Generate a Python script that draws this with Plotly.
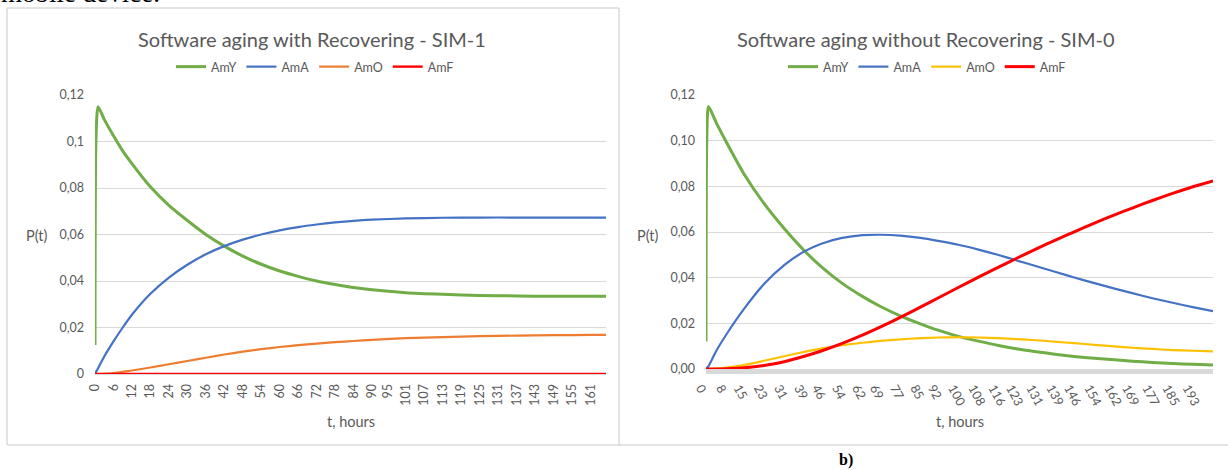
import plotly.graph_objects as go

W, H = 1228, 470

# ---------------- SIM-1 : Software aging with Recovering ----------------
t_sim1 = [0, 0.3, 1, 3, 6, 9, 12, 18, 24, 30, 36, 42, 48, 54, 60, 66, 72, 78,
          84, 90, 101, 113, 125, 137, 149, 161, 166]
amy_sim1 = [0.0125, 0.100, 0.115, 0.1095, 0.1025, 0.0960, 0.0905, 0.0805, 0.0725,
            0.0660, 0.0600, 0.0550, 0.0507, 0.0472, 0.0443, 0.0420, 0.0400, 0.0385,
            0.0372, 0.0362, 0.0350, 0.0343, 0.0338, 0.0336, 0.0334, 0.0334, 0.0334]
ama_sim1 = [0.0, 0.0008, 0.0025, 0.0075, 0.0140, 0.0200, 0.0255, 0.0345, 0.0415,
            0.0470, 0.0515, 0.0550, 0.0578, 0.0600, 0.0618, 0.0632, 0.0643, 0.0652,
            0.0659, 0.0664, 0.0669, 0.0672, 0.0673, 0.0673, 0.0673, 0.0673, 0.0673]
amo_sim1 = [0.0, 0.0, 0.0, 0.0001, 0.0004, 0.0009, 0.0015, 0.0028, 0.0042, 0.0056,
            0.0070, 0.0084, 0.0096, 0.0107, 0.0116, 0.0124, 0.0131, 0.0137, 0.0142,
            0.0147, 0.0154, 0.0159, 0.0163, 0.0165, 0.0167, 0.0168, 0.0168]
amf_sim1 = [0.0] * len(t_sim1)
ticks_sim1 = [0, 6, 12, 18, 24, 30, 36, 42, 48, 54, 60, 66, 72, 78, 84, 90, 95,
              101, 107, 113, 119, 125, 131, 137, 143, 149, 155, 161]

# ---------------- SIM-0 : Software aging without Recovering ----------------
t_sim0 = [0, 0.3, 1, 4, 8, 15, 23, 31, 39, 46, 54, 62, 69, 77, 85, 92, 100, 108,
          116, 123, 131, 139, 146, 154, 162, 169, 177, 185, 193, 201]
amy_sim0 = [0.012, 0.100, 0.115, 0.108, 0.0995, 0.0855, 0.0725, 0.0615, 0.0518,
            0.0445, 0.0375, 0.0318, 0.0275, 0.0233, 0.0198, 0.0170, 0.0143, 0.0122,
            0.0103, 0.0089, 0.0076, 0.0064, 0.0055, 0.0047, 0.0040, 0.0034, 0.0029,
            0.0024, 0.0021, 0.0018]
ama_sim0 = [0.0, 0.0004, 0.0013, 0.0078, 0.0150, 0.0262, 0.0372, 0.0455, 0.0515,
            0.0550, 0.0574, 0.0586, 0.0588, 0.0584, 0.0574, 0.0561, 0.0544, 0.0523,
            0.0499, 0.0476, 0.0450, 0.0424, 0.0401, 0.0376, 0.0352, 0.0332, 0.0310,
            0.0290, 0.0271, 0.0253]
amo_sim0 = [0.0, 0.0, 0.0, 0.0002, 0.0006, 0.0017, 0.0036, 0.0056, 0.0075, 0.0090,
            0.0104, 0.0115, 0.0123, 0.0130, 0.0135, 0.0138, 0.0139, 0.0138, 0.0135,
            0.0131, 0.0126, 0.0119, 0.0113, 0.0106, 0.0099, 0.0093, 0.0088, 0.0083,
            0.0080, 0.0077]
amf_sim0 = [0.0, 0.0, 0.0, 0.0, 0.0001, 0.0005, 0.0015, 0.0032, 0.0056, 0.0080,
            0.0112, 0.0148, 0.0183, 0.0226, 0.0271, 0.0311, 0.0357, 0.0402, 0.0446,
            0.0484, 0.0526, 0.0567, 0.0601, 0.0639, 0.0675, 0.0705, 0.0738, 0.0769,
            0.0798, 0.0824]
ticks_sim0 = [0, 8, 15, 23, 31, 39, 46, 54, 62, 69, 77, 85, 92, 100, 108, 116, 123,
              131, 139, 146, 154, 162, 169, 177, 185, 193]

series_names = ["AmY", "AmA", "AmO", "AmF"]
colors_sim1 = ["#70AD47", "#4472C4", "#ED7D31", "#FF0000"]
colors_sim0 = ["#70AD47", "#4472C4", "#FFC000", "#FF0000"]
widths_sim1 = [3, 2.2, 2.2, 2.4]
widths_sim0 = [3, 2.2, 2.2, 3]

FONT = "Lato"
GREY = "#595959"


def fx(p):
    return p / W


def fy(p):
    return 1 - p / H


fig = go.Figure()

for name, vals, col, lw in zip(series_names, [amy_sim1, ama_sim1, amo_sim1, amf_sim1],
                               colors_sim1, widths_sim1):
    fig.add_trace(go.Scatter(x=t_sim1, y=vals, name=name, mode="lines",
                             line=dict(color=col, width=lw, shape="spline", smoothing=0.6),
                             xaxis="x", yaxis="y", legend="legend", hoverinfo="skip"))

for name, vals, col, lw in zip(series_names, [amy_sim0, ama_sim0, amo_sim0, amf_sim0],
                               colors_sim0, widths_sim0):
    fig.add_trace(go.Scatter(x=t_sim0, y=vals, name=name, mode="lines",
                             line=dict(color=col, width=lw, shape="spline", smoothing=0.6),
                             xaxis="x2", yaxis="y2", legend="legend2", hoverinfo="skip"))

tickfont = dict(family=FONT, size=12.5, color=GREY)

fig.update_layout(
    template="none",
    width=W, height=H,
    margin=dict(l=0, r=0, t=0, b=0, pad=0, autoexpand=False),
    paper_bgcolor="white", plot_bgcolor="white",
    separators=", ",
    font=dict(family=FONT, color=GREY),
    xaxis=dict(domain=[fx(95), fx(606)], range=[0, 166], anchor="y", automargin=False,
               tickmode="array", tickvals=ticks_sim1, ticktext=[str(v) for v in ticks_sim1],
               tickangle=-90, tickfont=tickfont, showgrid=False, zeroline=False,
               showline=True, linecolor="#D9D9D9", linewidth=1, ticks="",
               ticklabelstandoff=4),
    yaxis=dict(domain=[fy(374), fy(95)], range=[0, 0.12], anchor="x", automargin=False,
               tickmode="linear", tick0=0, dtick=0.02, tickfont=tickfont,
               showgrid=True, gridcolor="#D9D9D9", gridwidth=1, zeroline=False,
               showline=False, ticks="", ticklabelstandoff=10),
    xaxis2=dict(domain=[fx(706), fx(1213)], range=[0, 201], anchor="y2", automargin=False,
                tickmode="array", tickvals=ticks_sim0, ticktext=[str(v) for v in ticks_sim0],
                tickangle=62, tickfont=tickfont, showgrid=False, zeroline=False,
                showline=True, linecolor="#D9D9D9", linewidth=5, ticks="",
                ticklabelstandoff=2, ticklabelshift=-5),
    yaxis2=dict(domain=[fy(369), fy(95)], range=[0, 0.12], anchor="x2", automargin=False,
                tickmode="linear", tick0=0, dtick=0.02, tickformat=".2f", tickfont=tickfont,
                showgrid=True, gridcolor="#D9D9D9", gridwidth=1, zeroline=False,
                showline=False, ticks="", ticklabelstandoff=10),
    legend=dict(orientation="h", x=fx(315), y=fy(67), xanchor="center", yanchor="middle",
                font=dict(family=FONT, size=12.5, color=GREY), bgcolor="rgba(0,0,0,0)"),
    legend2=dict(orientation="h", x=fx(927), y=fy(67), xanchor="center", yanchor="middle",
                 font=dict(family=FONT, size=12.5, color=GREY), bgcolor="rgba(0,0,0,0)"),
)

annotations = [
    dict(text="Software aging with Recovering - SIM-1", x=fx(312), y=fy(39.5),
         font=dict(family=FONT, size=20, color=GREY)),
    dict(text="Software aging without Recovering - SIM-0", x=fx(926), y=fy(39.5),
         font=dict(family=FONT, size=20, color=GREY)),
    dict(text="P(t)", x=fx(36.5), y=fy(236), font=dict(family=FONT, size=14.5, color=GREY)),
    dict(text="P(t)", x=fx(648), y=fy(235), font=dict(family=FONT, size=14.5, color=GREY)),
    dict(text="t, hours", x=fx(350.5), y=fy(421), font=dict(family=FONT, size=14.5, color=GREY)),
    dict(text="t, hours", x=fx(959.5), y=fy(421), font=dict(family=FONT, size=14.5, color=GREY)),
    dict(text="<b>b)</b>", x=fx(846), y=fy(460),
         font=dict(family="Liberation Serif", size=16, color="black")),
    dict(text="mobile device.", x=fx(-1), y=fy(10.5), xanchor="left", yanchor="bottom",
         font=dict(family="Liberation Serif", size=27, color="black")),
]
for a in annotations:
    a.setdefault("xanchor", "center")
    a.setdefault("yanchor", "middle")
    a.update(xref="paper", yref="paper", showarrow=False)
fig.update_layout(annotations=annotations)

border = "#C9C9C9"
shapes = [
    dict(type="rect", x0=fx(7), x1=fx(619), y0=fy(445), y1=fy(8)),
    dict(type="line", x0=fx(619), x1=fx(1228), y0=fy(445), y1=fy(445)),
]
for s in shapes:
    s.update(xref="paper", yref="paper", line=dict(color=border, width=1), layer="below")
fig.update_layout(shapes=shapes)

fig.write_html("out.html", config={"displayModeBar": False},
               post_script="document.body.style.margin='0';document.body.style.overflow='hidden';")
